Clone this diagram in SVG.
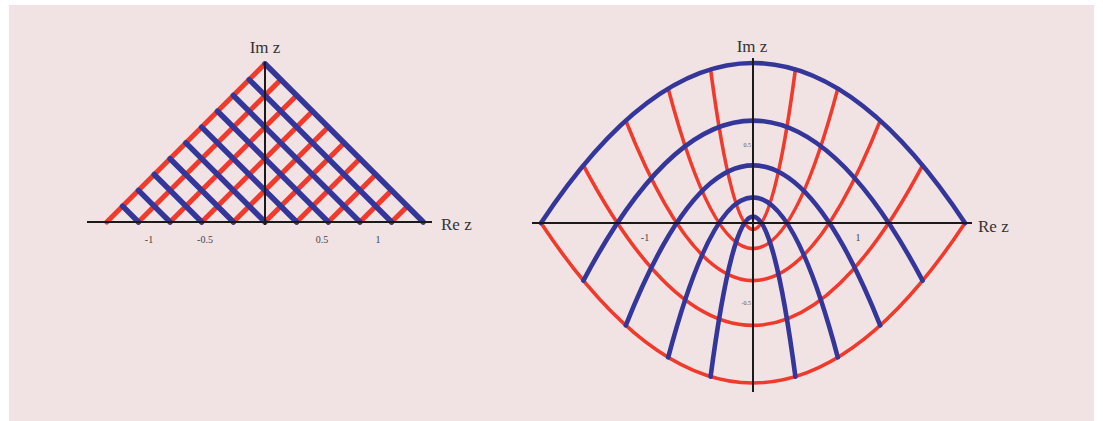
<svg xmlns="http://www.w3.org/2000/svg" width="1103" height="421" viewBox="0 0 1103 421">
<style>
.ax{stroke:#1a1a1a;stroke-width:2;fill:none}
.r{stroke:#f03a2c;fill:none;stroke-linecap:round}
.b{stroke:#34369a;fill:none;stroke-linecap:round}
.lr{stroke-width:5}
.lb{stroke-width:5.5}
.rr{stroke-width:3.6}
.rb{stroke-width:4.6}
.lbl{font-family:"Liberation Serif",serif;fill:#333;font-size:17px}
.tk{font-family:"Liberation Serif",serif;fill:#444;font-size:10px;text-anchor:middle}
.tk2{font-family:"Liberation Serif",serif;fill:#555;font-size:6px;text-anchor:end}
</style>
<rect x="0" y="0" width="1103" height="421" fill="#ffffff"/>
<rect x="9" y="5" width="1085" height="416" fill="#f1e2e4"/>

<g id="left-plot">
  <g id="left-red">
    <path class="r lr" d="M106.8,222L265,63.8M138.44,222L280.82,79.62M170.08,222L296.64,95.44M201.72,222L312.46,111.26M233.36,222L328.28,127.08M265,222L344.1,142.9M296.64,222L359.92,158.72M328.28,222L375.74,174.54M359.92,222L391.56,190.36M391.56,222L407.38,206.18"/>
  </g>
  <g id="left-blue">
    <path class="b lb" d="M138.44,222L122.62,206.18M170.08,222L138.44,190.36M201.72,222L154.26,174.54M233.36,222L170.08,158.72M265,222L185.9,142.9M296.64,222L201.72,127.08M328.28,222L217.54,111.26M359.92,222L233.36,95.44M391.56,222L249.18,79.62M423.2,222L265,63.8"/>
  </g>
  <g id="left-axes">
    <line class="ax" x1="87" y1="222" x2="432" y2="222"/>
    <line class="ax" x1="265" y1="62" x2="265" y2="225"/>
    <text class="lbl" x="265" y="53" text-anchor="middle">Im z</text>
    <text class="lbl" x="441" y="230">Re z</text>
    <text class="tk" x="149" y="243">-1</text>
    <text class="tk" x="205" y="243">-0.5</text>
    <text class="tk" x="322" y="243">0.5</text>
    <text class="tk" x="378" y="243">1</text>
  </g>
</g>

<g id="right-plot">
  <g id="right-red">
    <path class="r rr" d="M541,223Q753,543 965,223"/>
    <path class="r rr" d="M583.4,165.4Q753,485.4 922.6,165.4"/>
    <path class="r rr" d="M625.8,120.6Q753,440.6 880.2,120.6"/>
    <path class="r rr" d="M668.2,88.6Q753,408.6 837.8,88.6"/>
    <path class="r rr" d="M710.6,69.4Q753,389.4 795.4,69.4"/>
  </g>
  <g id="right-blue">
    <path class="b rb" d="M541,223Q753,-97 965,223"/>
    <path class="b rb" d="M583.4,280.6Q753,-39.4 922.6,280.6"/>
    <path class="b rb" d="M625.8,325.4Q753,5.4 880.2,325.4"/>
    <path class="b rb" d="M668.2,357.4Q753,37.4 837.8,357.4"/>
    <path class="b rb" d="M710.6,376.6Q753,56.6 795.4,376.6"/>
  </g>
  <g id="right-axes">
    <line class="ax" x1="532" y1="223" x2="972" y2="223"/>
    <line class="ax" x1="753" y1="58" x2="753" y2="392"/>
    <text class="lbl" x="752" y="52" text-anchor="middle">Im z</text>
    <text class="lbl" x="978" y="232">Re z</text>
    <text class="tk" x="645" y="241">-1</text>
    <text class="tk" x="858" y="241">1</text>
    <text class="tk2" x="751" y="147">0.5</text>
    <text class="tk2" x="751" y="305">-0.5</text>
  </g>
</g>
</svg>
